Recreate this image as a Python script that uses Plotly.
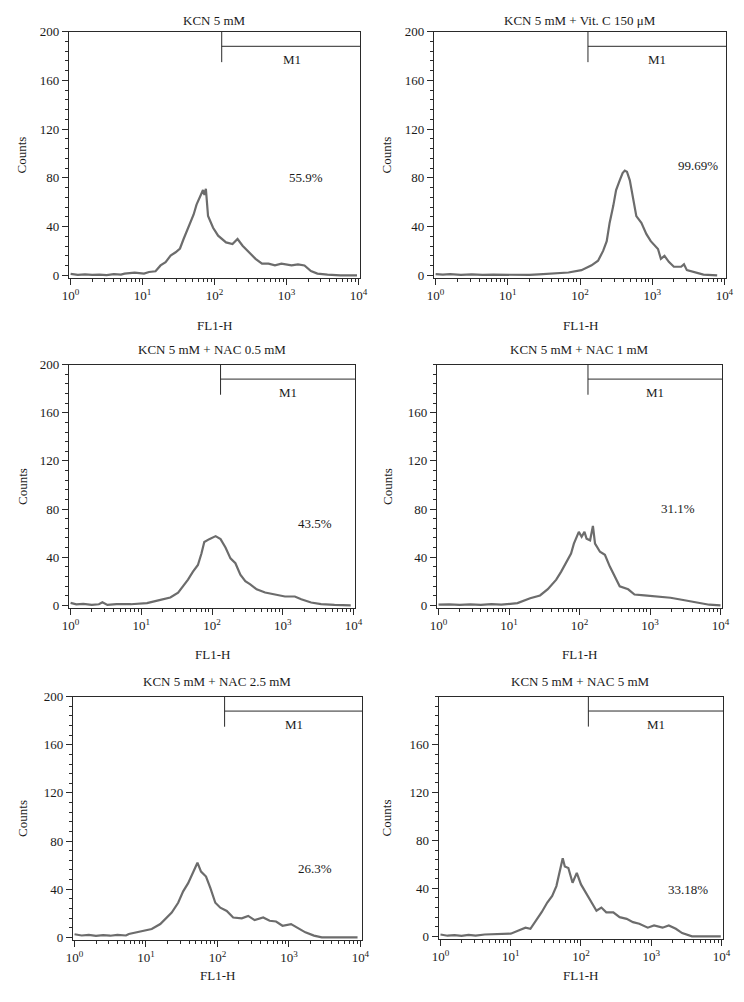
import plotly.graph_objects as go

# ---------------- data (log10 FL1-H, counts) ----------------
titles = ["KCN 5 mM", "KCN 5 mM + Vit. C 150 \u03bcM", "KCN 5 mM + NAC 0.5 mM",
          "KCN 5 mM + NAC 1 mM", "KCN 5 mM + NAC 2.5 mM", "KCN 5 mM + NAC 5 mM"]
percents = ["55.9%", "99.69%", "43.5%", "31.1%", "26.3%", "33.18%"]
m1_start_log = [2.10, 2.11, 2.12, 2.12, 2.10, 2.105]
m1_level = [188, 188, 188, 188, 188, 188]
m1_low = [175, 175, 175, 175, 175, 175]

lx1 = [0.0, 0.1, 0.2, 0.3, 0.4, 0.5, 0.6, 0.7, 0.75, 0.89, 1.02, 1.09, 1.18, 1.25, 1.32, 1.39, 1.46, 1.52, 1.57, 1.64,
       1.71, 1.75, 1.80, 1.84, 1.86, 1.88, 1.91, 1.98, 2.05, 2.16, 2.25, 2.32, 2.39, 2.48, 2.57, 2.66, 2.75, 2.84, 2.93, 3.07,
       3.16, 3.25, 3.34, 3.43, 3.57, 3.75, 3.98]
cy1 = [1.2, 0.4, 0.8, 0.3, 0.6, 0.2, 0.9, 0.5, 1.4, 2.2, 1.4, 2.7, 3.3, 8.1, 10.8, 16.2, 18.9, 22, 29.8, 40.6,
       49.9, 58, 65, 70, 66, 71, 48.7, 39, 32.5, 27, 25.7, 29.8, 24.3, 19, 13.5, 9.5, 9.5, 8.1, 9.5, 8.1,
       8.9, 8.1, 3.5, 1.4, 0.5, 0, 0]

lx2 = [0.0, 0.1, 0.2, 0.35, 0.5, 0.65, 0.8, 1.0, 1.15, 1.3, 1.43, 1.55, 1.66, 1.84, 2.02, 2.16, 2.25, 2.32, 2.37, 2.41,
       2.46, 2.5, 2.55, 2.59, 2.62, 2.65, 2.69, 2.73, 2.78, 2.85, 2.92, 2.98, 3.08, 3.12, 3.17, 3.23, 3.3, 3.4, 3.44, 3.48,
       3.57, 3.71, 3.9]
cy2 = [1, 0.5, 1, 0.4, 0.8, 0.3, 0.5, 0.3, 0.6, 0.3, 0.8, 1.2, 1.5, 2.3, 4.2, 8.2, 12, 20, 28, 43,
       56.8, 70, 78, 84, 86, 85, 78, 64.9, 48.6, 43, 33.8, 28, 21.6, 13.5, 16, 11, 7, 7, 9, 4.2,
       3, 0.5, 0]

lx3 = [0.0, 0.08, 0.18, 0.3, 0.4, 0.45, 0.52, 0.65, 0.85, 1.08, 1.27, 1.41, 1.52, 1.59, 1.66, 1.73, 1.80, 1.85, 1.89, 1.96,
       2.05, 2.12, 2.19, 2.26, 2.33, 2.4, 2.47, 2.54, 2.63, 2.75, 2.89, 3.03, 3.17, 3.26, 3.4, 3.54, 3.73, 3.96]
cy3 = [2, 0.8, 1.2, 0.4, 0.9, 2.5, 0.3, 1, 0.9, 1.8, 4.5, 6.5, 10.6, 16, 21.3, 28, 33.5, 43, 52.6, 55,
       57.5, 55, 48, 39, 35, 25.4, 20, 17.4, 13.3, 10.6, 9.2, 7.3, 7.3, 5, 2.3, 1, 0.3, 0]

lx4 = [0.0, 0.15, 0.3, 0.45, 0.6, 0.75, 0.89, 1.12, 1.3, 1.44, 1.55, 1.67, 1.74, 1.81, 1.88, 1.92, 1.99, 2.03, 2.07, 2.1,
       2.15, 2.19, 2.22, 2.29, 2.36, 2.43, 2.5, 2.57, 2.69, 2.78, 2.92, 3.11, 3.29, 3.47, 3.66, 3.84, 4.0]
cy4 = [0.5, 0.8, 0.3, 0.7, 0.4, 0.9, 0.5, 1.8, 5.9, 8.2, 13.4, 21.3, 28, 35, 43, 51.3, 61, 57, 61, 55.4,
       54, 66, 51.3, 44.5, 42, 32.2, 24, 15.8, 13.3, 9, 8.2, 7.2, 6.3, 4.4, 2.2, 0.5, 0]

lx5 = [0.0, 0.1, 0.2, 0.3, 0.4, 0.5, 0.6, 0.72, 0.76, 0.95, 1.08, 1.2, 1.29, 1.36, 1.45, 1.52, 1.59, 1.65, 1.72, 1.77,
       1.84, 1.9, 1.97, 2.04, 2.13, 2.22, 2.34, 2.43, 2.52, 2.64, 2.73, 2.82, 2.91, 3.03, 3.12, 3.23, 3.35, 3.46, 3.96]
cy5 = [2.5, 1.5, 2, 1.2, 1.8, 1.3, 2, 1.5, 2.8, 5, 6.9, 11, 16.4, 20.5, 28.7, 38.2, 45, 53.2, 62, 54.6,
       50.5, 41, 28.7, 24.6, 21.9, 16.4, 15.8, 17.8, 14.3, 16.4, 13.7, 13.1, 9.6, 11, 7.7, 4.1, 1.4, 0, 0]

lx6 = [0.0, 0.1, 0.2, 0.3, 0.4, 0.5, 0.63, 0.87, 1.0, 1.12, 1.21, 1.28, 1.35, 1.44, 1.52, 1.59, 1.65, 1.69, 1.74, 1.77,
       1.82, 1.88, 1.94, 2.0, 2.08, 2.15, 2.22, 2.29, 2.36, 2.46, 2.55, 2.65, 2.74, 2.83, 2.95, 3.04, 3.16, 3.25, 3.35, 3.44,
       3.58, 3.99]
cy6 = [1.5, 0.5, 1, 0.4, 1.2, 0.6, 1.5, 1.6, 2.2, 5, 7.2, 6.3, 12.2, 20.1, 28.2, 33.7, 41.9, 52.9, 65.2, 58.3,
       57, 44.7, 52.9, 43.3, 35, 28.2, 21.3, 24, 20, 20, 16, 14.6, 11.8, 10.5, 7.2, 9.1, 7.2, 9.1, 6.3, 2.7,
       0, 0]

series = [(lx1, cy1), (lx2, cy2), (lx3, cy3), (lx4, cy4), (lx5, cy5), (lx6, cy6)]
decade_vals = [1, 10, 100, 1000, 10000]
decade_text = ["10<sup>0</sup>", "10<sup>1</sup>", "10<sup>2</sup>", "10<sup>3</sup>", "10<sup>4</sup>"]
minor_x_vals = [m * 10 ** k for k in range(4) for m in range(2, 10)]
minor_y_vals = list(range(0, 201, 8))

# ---------------- layout geometry (pixels) ----------------
W, H = 744, 1002
boxes = [(63, 360, 25, 274), (435, 733, 25, 274), (63, 355, 362, 608),
         (438, 729, 362, 608), (67, 362, 698, 944), (440, 730, 698, 943)]
title_y = [14, 14, 347, 347, 683, 683]
xlabel_y = [322, 322, 655, 655, 980, 980]
counts_x = [15, 387, 15, 387, 15, 387]
pct_pos = [(3.27, 80), (3.63, 90.5), (3.45, 67.7), (3.39, 80.5), (3.36, 57.4), (3.52, 39)]
m1_text_pos = [3.07, 3.07, 3.07, 3.07, 3.07, 3.07]
show200 = [True, True, True, False, True, False]

FONT = "Liberation Serif"
FS = 13
TXT = "#1a1a1a"
AX = "#2a2a2a"

fig = go.Figure()
annotations = []
xr = [-0.025, 4.025]
yr = [-2, 200]

for i, ((lx, cy), (l, r, t, b)) in enumerate(zip(series, boxes)):
    n = "" if i == 0 else str(i + 1)
    xa, ya = "x" + n, "y" + n
    mxn, myn = str(7 + i), str(13 + i)
    fig.add_trace(go.Scatter(x=[10 ** v for v in lx], y=cy, mode="lines",
                             line=dict(color="#6c6c6c", width=2.2),
                             xaxis=xa, yaxis=ya, showlegend=False, hoverinfo="skip"))
    m1 = 10 ** m1_start_log[i]
    xend = 10 ** xr[1]
    fig.add_trace(go.Scatter(x=[m1, m1, None, m1, xend], y=[m1_low[i], 200, None, m1_level[i], m1_level[i]],
                             mode="lines", line=dict(color=AX, width=1), xaxis=xa, yaxis=ya,
                             showlegend=False, hoverinfo="skip", cliponaxis=False))
    yt = [0, 40, 80, 120, 160, 200] if show200[i] else [0, 40, 80, 120, 160]
    xd = [l / W, r / W]
    yd = [1 - b / H, 1 - t / H]
    fig.layout["xaxis" + n] = dict(
        type="log", range=xr, domain=xd, anchor=ya,
        tickmode="array", tickvals=decade_vals, ticktext=decade_text,
        ticks="outside", ticklen=6, tickwidth=1, tickcolor=AX,
        showline=True, linecolor=AX, linewidth=1, mirror=True, showgrid=False, zeroline=False,
        tickfont=dict(family=FONT, size=FS, color=TXT))
    fig.layout["yaxis" + n] = dict(
        range=yr, domain=yd, anchor=xa,
        tickmode="array", tickvals=yt,
        ticks="outside", ticklen=6, tickwidth=1, tickcolor=AX,
        showline=True, linecolor=AX, linewidth=1, mirror=True, showgrid=False, zeroline=False,
        tickfont=dict(family=FONT, size=FS, color=TXT))
    # minor tick overlays
    fig.layout["xaxis" + mxn] = dict(
        type="log", range=xr, domain=xd, anchor=ya, overlaying=xa, side="bottom",
        tickmode="array", tickvals=minor_x_vals, showticklabels=False,
        ticks="outside", ticklen=3, tickwidth=1, tickcolor=AX,
        showline=False, showgrid=False, zeroline=False)
    fig.layout["yaxis" + myn] = dict(
        range=yr, domain=yd, anchor=xa, overlaying=ya, side="left",
        tickmode="array", tickvals=minor_y_vals, showticklabels=False,
        ticks="outside", ticklen=3, tickwidth=1, tickcolor=AX,
        showline=False, showgrid=False, zeroline=False)
    fig.add_trace(go.Scatter(x=[None], y=[None], xaxis="x" + mxn, yaxis="y" + myn,
                             showlegend=False, hoverinfo="skip"))
    cx = (l + r) / 2 / W
    annotations.append(dict(text=titles[i], x=cx, y=1 - title_y[i] / H, xref="paper", yref="paper",
                            showarrow=False, font=dict(family=FONT, size=FS, color=TXT),
                            xanchor="center", yanchor="middle"))
    annotations.append(dict(text="FL1-H", x=cx, y=1 - xlabel_y[i] / H, xref="paper", yref="paper",
                            showarrow=False, font=dict(family=FONT, size=FS, color=TXT),
                            xanchor="center", yanchor="middle"))
    annotations.append(dict(text="Counts", x=counts_x[i] / W, y=1 - (t + b) / 2 / H, xref="paper", yref="paper",
                            showarrow=False, textangle=-90, font=dict(family=FONT, size=FS, color=TXT),
                            xanchor="center", yanchor="middle"))
    annotations.append(dict(text=percents[i], x=pct_pos[i][0], y=pct_pos[i][1], xref=xa, yref=ya,
                            showarrow=False, font=dict(family=FONT, size=FS, color=TXT),
                            xanchor="center", yanchor="middle"))
    annotations.append(dict(text="M1", x=m1_text_pos[i], y=177, xref=xa, yref=ya,
                            showarrow=False, font=dict(family=FONT, size=FS, color=TXT),
                            xanchor="center", yanchor="middle"))

fig.update_layout(width=W, height=H, margin=dict(l=0, r=0, t=0, b=0, pad=0),
                  paper_bgcolor="white", plot_bgcolor="white",
                  annotations=annotations, showlegend=False)

fig.write_html("out.html", config={"displayModeBar": False},
               post_script="document.body.style.margin='0';document.body.style.overflow='hidden';")
